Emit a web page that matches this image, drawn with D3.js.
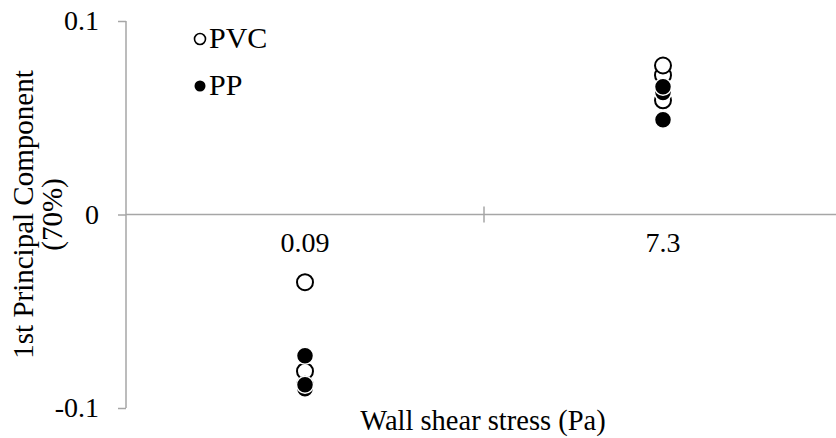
<!DOCTYPE html>
<html>
<head>
<meta charset="utf-8">
<script src="https://cdn.jsdelivr.net/npm/d3@7/dist/d3.min.js"></script>
<style>
  html, body { margin: 0; padding: 0; background: #fff; }
  svg { display: block; }
  svg text { font-family: "Liberation Serif", "Times New Roman", "DejaVu Serif", serif; fill: #000; }
</style>
</head>
<body>
<svg id="chart" width="836" height="438"></svg>
<script>
// Wall shear stress groups on the x axis
const categories = ["0.09", "7.3"];

// 1st principal component scores per pipe material
const pvcShear = ["0.09", "0.09", "0.09", "7.3", "7.3", "7.3"];
const pvcScore = [-0.035, -0.081, -0.088, 0.072, 0.077, 0.059];
const ppShear  = ["0.09", "0.09", "0.09", "7.3", "7.3", "7.3"];
const ppScore  = [-0.073, -0.090, -0.088, 0.063, 0.066, 0.049];

const yTicks = [-0.1, 0, 0.1];
const yTickLabels = ["-0.1", "0", "0.1"];

const seriesNames = ["PVC", "PP"];

const svg = d3.select("#chart");
const serif = "'Liberation Serif', 'Times New Roman', serif";
const axisColor = "#a6a6a6";
const fontSize = 28;

const x = d3.scaleBand().domain(categories).range([126, 842]);
const y = d3.scaleLinear().domain([-0.1, 0.1]).range([408, 21]);

// y axis (ticks outside, to the left)
const yAxis = svg.append("g")
  .attr("transform", `translate(${x.range()[0]},0)`)
  .call(d3.axisLeft(y).tickValues(yTicks).tickSize(8).tickPadding(19)
    .tickFormat((d, i) => yTickLabels[i]));
yAxis.attr("font-family", serif).attr("font-size", fontSize);
yAxis.select(".domain").attr("stroke", axisColor).attr("stroke-width", 1.5)
  .attr("d", `M0,${y(0.1)}V${y(-0.1)}`);
yAxis.selectAll(".tick line").attr("stroke", axisColor).attr("stroke-width", 1.5);
yAxis.selectAll(".tick text").attr("fill", "#000");

// x axis along y = 0, labels below
const xAxis = svg.append("g")
  .attr("transform", `translate(0,${y(0)})`)
  .call(d3.axisBottom(x).tickSize(0).tickPadding(18));
xAxis.attr("font-family", serif).attr("font-size", fontSize);
xAxis.select(".domain").attr("stroke", axisColor).attr("stroke-width", 1.5)
  .attr("d", `M${x.range()[0]},0H${x.range()[1]}`);
xAxis.selectAll(".tick text").attr("fill", "#000");

// tick mark between the two groups, crossing the axis
categories.slice(1).forEach(c => {
  xAxis.append("line")
    .attr("x1", x(c)).attr("x2", x(c))
    .attr("y1", -8).attr("y2", 8)
    .attr("stroke", axisColor).attr("stroke-width", 1.5);
});

// axis titles
svg.append("text")
  .attr("x", 483).attr("y", 430)
  .attr("text-anchor", "middle")
  .attr("font-size", 28.5)
  .text("Wall shear stress (Pa)");

const yTitle = svg.append("text")
  .attr("transform", `translate(33,${(y(0.1) + y(-0.1)) / 2}) rotate(-90)`)
  .attr("text-anchor", "middle")
  .attr("font-size", 29);
yTitle.append("tspan").attr("x", 0).attr("dy", 0).text("1st Principal Component");
yTitle.append("tspan").attr("x", 0).attr("dy", 29).text("(70%)");

// markers
const r = 8;
const plot = svg.append("g");
plot.selectAll("circle.pvc")
  .data(pvcScore.map((v, i) => ({ c: pvcShear[i], v })))
  .join("circle")
  .attr("class", "pvc")
  .attr("cx", d => x(d.c) + x.bandwidth() / 2)
  .attr("cy", d => y(d.v))
  .attr("r", r)
  .attr("fill", "#fff")
  .attr("stroke", "#000")
  .attr("stroke-width", 2);

plot.selectAll("circle.pp")
  .data(ppScore.map((v, i) => ({ c: ppShear[i], v })))
  .join("circle")
  .attr("class", "pp")
  .attr("cx", d => x(d.c) + x.bandwidth() / 2)
  .attr("cy", d => y(d.v))
  .attr("r", r + 0.5)
  .attr("fill", "#000")
  .attr("stroke", "#fff")
  .attr("stroke-width", 1.5);

// legend
const legend = svg.append("g");
seriesNames.forEach((name, i) => {
  const ly = 39 + i * 47;
  legend.append("circle")
    .attr("cx", 200).attr("cy", ly)
    .attr("r", 5.5)
    .attr("fill", i === 0 ? "#fff" : "#000")
    .attr("stroke", "#000")
    .attr("stroke-width", i === 0 ? 1.6 : 0);
  legend.append("text")
    .attr("x", 209).attr("y", ly + 9)
    .attr("font-size", 30)
    .text(name);
});
</script>
</body>
</html>
